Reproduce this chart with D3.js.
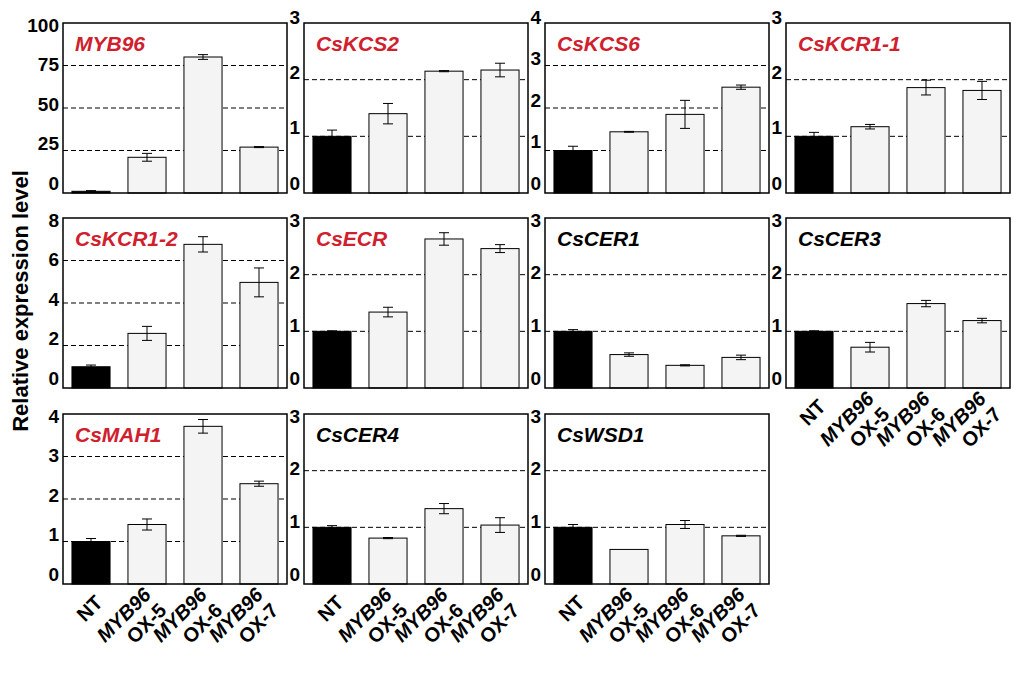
<!DOCTYPE html>
<html>
<head>
<meta charset="utf-8">
<script src="https://cdn.jsdelivr.net/npm/d3@7"></script>
<style>
  html, body { margin: 0; padding: 0; background: #ffffff; }
  svg { display: block; font-family: "Liberation Sans", Arial, sans-serif; }
</style>
</head>
<body>
<svg id="chart" width="1033" height="679"></svg>
<script>
// ---------- data ----------
const genes = ["MYB96", "CsKCS2", "CsKCS6", "CsKCR1-1", "CsKCR1-2", "CsECR",
               "CsCER1", "CsCER3", "CsMAH1", "CsCER4", "CsWSD1"];
const redGenes = ["MYB96", "CsKCS2", "CsKCS6", "CsKCR1-1", "CsKCR1-2", "CsECR", "CsMAH1"];
const lines = ["NT", "MYB96 OX-5", "MYB96 OX-6", "MYB96 OX-7"];
const yMax  = [100, 3, 4, 3, 8, 3, 3, 3, 4, 3, 3];
const yStep = [25, 1, 1, 1, 2, 1, 1, 1, 1, 1, 1];
const means = [
  [1.0, 21, 80, 27],
  [1.0, 1.40, 2.15, 2.17],
  [1.0, 1.44, 1.85, 2.49],
  [1.0, 1.17, 1.86, 1.81],
  [1.0, 2.57, 6.76, 4.97],
  [1.0, 1.34, 2.63, 2.46],
  [1.0, 0.59, 0.40, 0.54],
  [1.0, 0.72, 1.49, 1.19],
  [1.0, 1.40, 3.71, 2.36],
  [1.0, 0.81, 1.33, 1.04],
  [1.0, 0.61, 1.05, 0.85]
];
const errs = [
  [0.4, 2.3, 1.4, 0.3],
  [0.11, 0.18, 0.01, 0.12],
  [0.10, 0.01, 0.33, 0.05],
  [0.07, 0.04, 0.13, 0.16],
  [0.08, 0.33, 0.36, 0.68],
  [0.01, 0.085, 0.11, 0.07],
  [0.03, 0.03, 0.01, 0.04],
  [0.01, 0.085, 0.056, 0.04],
  [0.07, 0.13, 0.16, 0.06],
  [0.03, 0.01, 0.09, 0.13],
  [0.05, 0.0, 0.07, 0.01]
];
const labelledPanels = ["CsCER3", "CsMAH1", "CsCER4", "CsWSD1"];
const yTitle = "Relative expression level";

// ---------- layout ----------
const svg = d3.select("#chart");
const colLeft = [63, 304, 545, 786];
const rowTop = [23, 218, 414];
const pw = 224, ph = 170;
const font = "\"Liberation Sans\", Arial, sans-serif";

genes.forEach((gene, i) => {
  const r = Math.floor(i / 4), c = i % 4;
  const left = colLeft[c], top = rowTop[r];
  const bottom = top + ph, right = left + pw;

  const x = d3.scaleBand().domain(lines).range([left, right])
              .paddingInner(0.32).paddingOuter(0.16);
  const y = d3.scaleLinear().domain([0, yMax[i]]).range([bottom, top]);
  const yl = d3.scaleLinear().domain([0, yMax[i]]).range([bottom - 10, top + (r === 0 && c > 0 ? -6 : 2)]);
  const ticks = d3.range(0, yMax[i] + yStep[i] / 2, yStep[i]);
  const g = svg.append("g");

  // gridlines (interior ticks)
  g.selectAll("line.grid").data(ticks.filter(t => t > 0 && t < yMax[i]))
    .join("line").attr("class", "grid")
    .attr("x1", left).attr("x2", right)
    .attr("y1", d => y(d)).attr("y2", d => y(d))
    .attr("stroke", "#000").attr("stroke-width", 1)
    .attr("stroke-dasharray", "5,3");

  const data = lines.map((l, k) => ({ l, k, v: means[i][k], e: errs[i][k] }));

  // bars
  g.selectAll("rect.bar").data(data).join("rect").attr("class", "bar")
    .attr("x", d => x(d.l)).attr("width", x.bandwidth())
    .attr("y", d => y(d.v)).attr("height", d => bottom - y(d.v))
    .attr("fill", d => d.k === 0 ? "#000" : "#f4f4f4")
    .attr("stroke", "#000").attr("stroke-width", 1);

  // error bars
  const eb = g.selectAll("g.err").data(data.filter(d => d.e > 0)).join("g").attr("class", "err");
  const cx = d => x(d.l) + x.bandwidth() / 2;
  eb.append("line").attr("x1", cx).attr("x2", cx)
    .attr("y1", d => y(d.v + d.e)).attr("y2", d => y(d.v - d.e))
    .attr("stroke", "#000").attr("stroke-width", 1);
  eb.append("line").attr("x1", d => cx(d) - 5).attr("x2", d => cx(d) + 5)
    .attr("y1", d => y(d.v + d.e)).attr("y2", d => y(d.v + d.e))
    .attr("stroke", "#000").attr("stroke-width", 1);
  eb.append("line").attr("x1", d => cx(d) - 5).attr("x2", d => cx(d) + 5)
    .attr("y1", d => y(d.v - d.e)).attr("y2", d => y(d.v - d.e))
    .attr("stroke", "#000").attr("stroke-width", 1);

  // frame
  g.append("rect").attr("x", left).attr("y", top).attr("width", pw).attr("height", ph)
    .attr("fill", "none").attr("stroke", "#000").attr("stroke-width", 1.5);

  // y tick labels
  const ax = g.append("g").attr("transform", `translate(${left},0)`)
    .call(d3.axisLeft(yl).tickValues(ticks).tickSize(0).tickPadding(4).tickFormat(d3.format("d")));
  ax.select(".domain").remove();
  ax.selectAll("text").attr("font-family", font).attr("font-size", 19)
    .attr("font-weight", "bold").attr("fill", "#000");

  // gene title
  g.append("text").attr("x", left + 12).attr("y", top + 28)
    .attr("font-family", font).attr("font-size", 21)
    .attr("font-weight", "bold").attr("font-style", "italic")
    .attr("fill", redGenes.includes(gene) ? "#d0202e" : "#000")
    .text(gene);

  // x labels
  if (labelledPanels.includes(gene)) {
    lines.forEach(l => {
      const parts = l.split(" ");
      const n = parts.length;
      const t = g.append("text")
        .attr("transform", `translate(${x(l) + x.bandwidth() / 2 + 8},${bottom + 15}) rotate(-45)`)
        .attr("text-anchor", "end")
        .attr("font-family", font).attr("font-size", 20).attr("font-weight", "bold");
      parts.forEach((p, j) => {
        t.append("tspan").attr("x", 0)
          .attr("y", ((j - (n - 1) / 2) * 1.1 + 0.35) + "em")
          .attr("font-style", p === "MYB96" ? "italic" : "normal")
          .text(p);
      });
    });
  }
});

// y-axis title
svg.append("text")
  .attr("transform", "translate(28,301) rotate(-90)")
  .attr("text-anchor", "middle")
  .attr("font-family", font).attr("font-size", 22).attr("font-weight", "bold")
  .text(yTitle);
</script>
</body>
</html>
